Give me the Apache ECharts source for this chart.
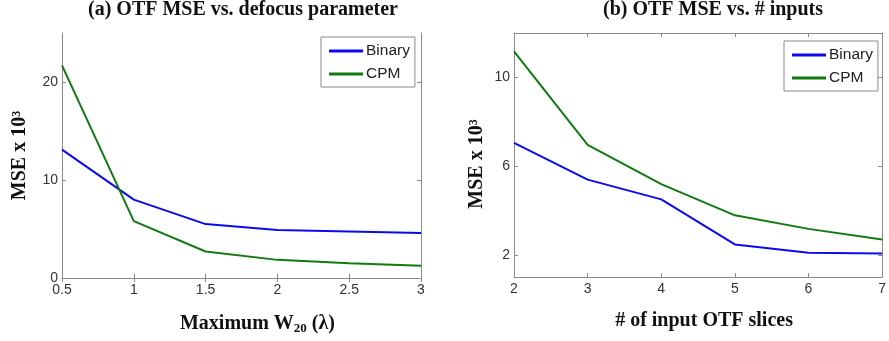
<!DOCTYPE html>
<html><head><meta charset="utf-8">
<script src="https://cdn.jsdelivr.net/npm/echarts@6/dist/echarts.min.js"></script>
<style>html,body{margin:0;padding:0;background:#fff}#c{width:889px;height:341px}</style>
</head><body><div id="c"></div>
<script>
// Panel (a)
const aX = [0.5, 1, 1.5, 2, 2.5, 3];
const aBinary = [13.1, 8.0, 5.5, 4.9, 4.75, 4.6];
const aCPM = [21.7, 5.8, 2.7, 1.85, 1.5, 1.25];
const aYTicks = [0, 10, 20];
// Panel (b)
const bX = [2, 3, 4, 5, 6, 7];
const bBinary = [7.05, 5.39, 4.5, 2.47, 2.09, 2.06];
const bCPM = [11.17, 6.96, 5.19, 3.78, 3.17, 2.69];
const bYTicks = [2, 6, 10];
const seriesNames = ['Binary', 'CPM'];
const colors = ['#0a0af0', '#107a10'];

const serif = 'Liberation Serif';
const sans = 'Liberation Sans';
const boxColor = '#8a8a8a';
const labelStyle = {fontFamily: sans, fontSize: 14, color: '#333'};

function pair(xs, ys) { return xs.map((x, i) => [x, ys[i]]); }

function xAxes(grid, min, max, interval, name, nameRich, shift) {
  return [
    {type: 'value', gridIndex: grid, min, max, interval, position: 'bottom',
     axisLine: {show: true, lineStyle: {color: boxColor, width: 1}},
     axisTick: {show: true, inside: true, length: 4, lineStyle: {color: boxColor}},
     splitLine: {show: false},
     axisLabel: Object.assign({margin: 5}, labelStyle),
     name, nameLocation: 'middle', nameGap: 34,
     nameTextStyle: {fontFamily: serif, fontWeight: 'bold', fontSize: 20, color: '#111', rich: nameRich,
                     padding: [0, 0, 0, shift]}},
    {type: 'value', gridIndex: grid, min, max, interval, position: 'top',
     axisLine: {show: true, lineStyle: {color: boxColor, width: 1}},
     axisTick: {show: true, inside: true, length: 4, lineStyle: {color: boxColor}},
     splitLine: {show: false}, axisLabel: {show: false}}
  ];
}
function yAxes(grid, min, max, ticks, gap, shift) {
  return [
    {type: 'value', gridIndex: grid, min, max, position: 'left',
     axisLine: {show: true, lineStyle: {color: boxColor, width: 1}},
     axisTick: {show: true, inside: true, length: 4, lineStyle: {color: boxColor}, customValues: ticks},
     splitLine: {show: false},
     axisLabel: Object.assign({margin: 4, customValues: ticks}, labelStyle),
     name: 'MSE x 10³', nameLocation: 'middle', nameGap: gap,
     nameTextStyle: {fontFamily: serif, fontWeight: 'bold', fontSize: 20, color: '#111',
                     padding: [0, shift, 0, 0]}},
    {type: 'value', gridIndex: grid, min, max, position: 'right',
     axisLine: {show: true, lineStyle: {color: boxColor, width: 1}},
     axisTick: {show: true, inside: true, length: 4, lineStyle: {color: boxColor}, customValues: ticks},
     splitLine: {show: false}, axisLabel: {show: false}}
  ];
}

const subRich = {sub: {fontFamily: serif, fontWeight: 'bold', fontSize: 13, color: '#111', padding: [10, 0, 0, 0]}};

const chart = echarts.init(document.getElementById('c'), null, {renderer: 'canvas'});
const legendBase = {
  orient: 'vertical', icon: 'rect', itemWidth: 34, itemHeight: 3, itemGap: 7,
  backgroundColor: '#fff', borderColor: boxColor, borderWidth: 1, padding: [6, 5, 5, 8],
  textStyle: {fontFamily: sans, fontSize: 15.5, color: '#222', padding: [0, 0, 0, -2]},
  data: seriesNames
};
chart.setOption({
  animation: false,
  title: [
    {text: '(a) OTF MSE vs. defocus parameter', left: 238, top: -5, textAlign: 'center',
     textStyle: {fontFamily: serif, fontWeight: 'bold', fontSize: 20, color: '#111'}},
    {text: '(b) OTF MSE vs. # inputs', left: 708, top: -5, textAlign: 'center',
     textStyle: {fontFamily: serif, fontWeight: 'bold', fontSize: 20, color: '#111'}}
  ],
  grid: [
    {left: 62, right: 468, top: 33, bottom: 63},
    {left: 514, right: 6, top: 33, bottom: 64}
  ],
  legend: [
    Object.assign({}, legendBase, {left: 321, top: 37}),
    Object.assign({}, legendBase, {left: 784, top: 41})
  ],
  xAxis: [
    ...xAxes(0, 0.5, 3, 0.5, 'Maximum W{sub|20} (λ)', subRich, 32),
    ...xAxes(1, 2, 7, 1, '# of input OTF slices', {}, 12)
  ],
  yAxis: [
    ...yAxes(0, 0, 25, aYTicks, 32, 0),
    ...yAxes(1, 1, 12, bYTicks, 27, 18)
  ],
  series: [
    {name: seriesNames[0], type: 'line', xAxisIndex: 0, yAxisIndex: 0, data: pair(aX, aBinary),
     showSymbol: false, lineStyle: {color: colors[0], width: 2}, itemStyle: {color: colors[0]}},
    {name: seriesNames[1], type: 'line', xAxisIndex: 0, yAxisIndex: 0, data: pair(aX, aCPM),
     showSymbol: false, lineStyle: {color: colors[1], width: 2}, itemStyle: {color: colors[1]}},
    {name: seriesNames[0], type: 'line', xAxisIndex: 2, yAxisIndex: 2, data: pair(bX, bBinary),
     showSymbol: false, lineStyle: {color: colors[0], width: 2}, itemStyle: {color: colors[0]}},
    {name: seriesNames[1], type: 'line', xAxisIndex: 2, yAxisIndex: 2, data: pair(bX, bCPM),
     showSymbol: false, lineStyle: {color: colors[1], width: 2}, itemStyle: {color: colors[1]}}
  ]
});
</script></body></html>
